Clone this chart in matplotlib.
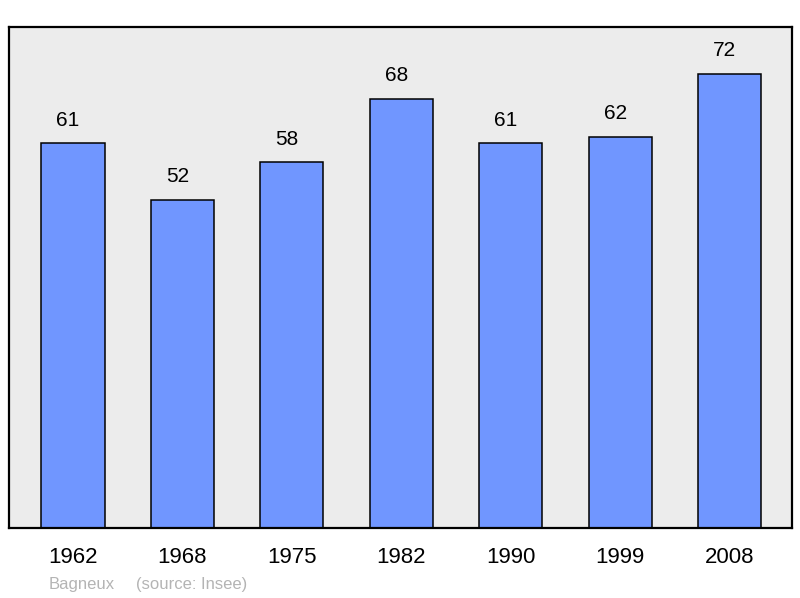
import matplotlib.pyplot as plt

years = ["1962", "1968", "1975", "1982", "1990", "1999", "2008"]
population = [61, 52, 58, 68, 61, 62, 72]

plt.rcParams['font.family'] = ['Liberation Sans', 'DejaVu Sans']

fig = plt.figure(figsize=(8, 5.98), dpi=100)
ax = fig.add_axes([9 / 800, 70 / 598, 783 / 800, 501 / 598])
ax.set_facecolor('#ececec')

bars = ax.bar(range(len(years)), population, width=0.576,
              color='#7096ff', edgecolor='black', linewidth=1.1)

for i, v in enumerate(population):
    ax.annotate(str(v), (i, v), xytext=(-5, 23), textcoords='offset pixels',
                ha='center', va='center', fontsize=15)

ax.set_xlim(-0.585, 6.571)
ax.set_ylim(0, 79.4)
ax.set_yticks([])
ax.set_xticks(range(len(years)))
ax.set_xticklabels(years, fontsize=16)
ax.tick_params(axis='x', length=0, pad=14)
for s in ax.spines.values():
    s.set_linewidth(1.6)

# caption under the axis
fig.text(49 / 800, 1 - 585 / 598, "Bagneux", fontsize=12,
         color='#b4b4b4', va='center', ha='left')
fig.text(136 / 800, 1 - 585 / 598, "(source: Insee)", fontsize=12,
         color='#b4b4b4', va='center', ha='left')

fig.savefig('out.png', dpi=100)
